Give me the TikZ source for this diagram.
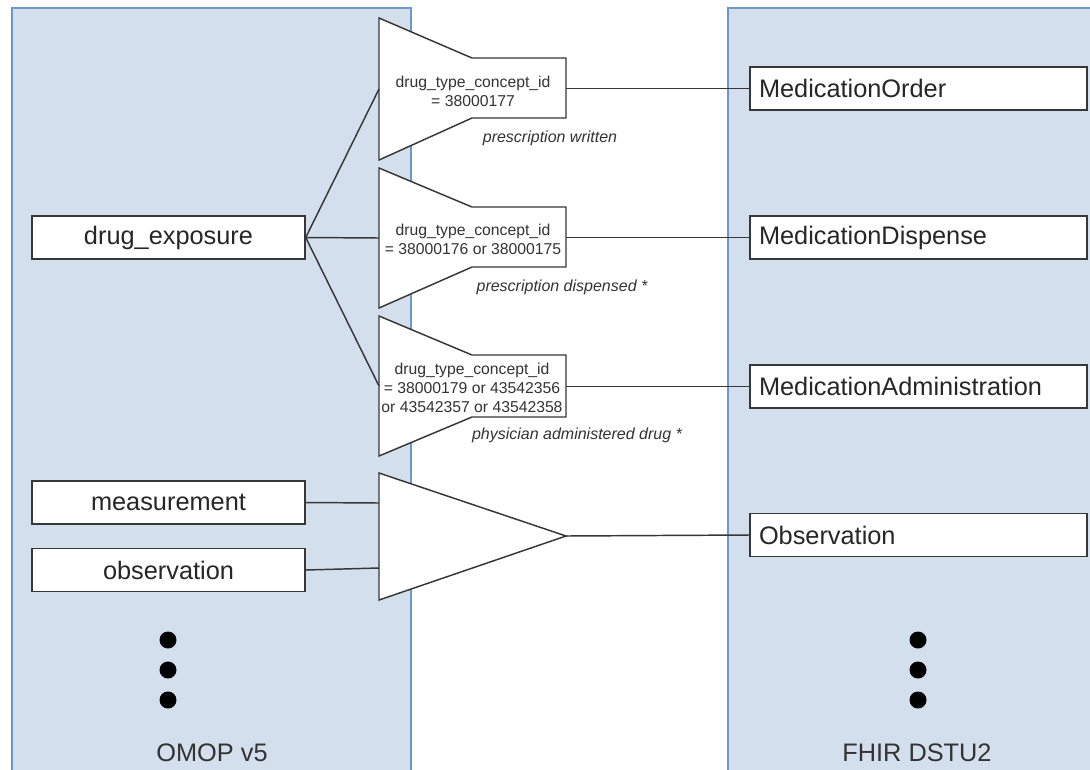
\documentclass[tikz,border=0pt]{standalone}
\usepackage{fontspec}
\setmainfont{Liberation Sans}
\definecolor{panelfill}{RGB}{212,223,238}
\definecolor{paneledge}{RGB}{108,152,202}
\definecolor{ink}{RGB}{55,55,55}
\begin{document}
\begin{tikzpicture}[x=0.75pt,y=-0.75pt,
  panel/.style={fill=panelfill, draw=paneledge, line width=1.2pt},
  bigfont/.style={font=\fontsize{19}{22}\selectfont},
  srcbox/.style={bigfont, draw=ink, fill=white, line width=1.1pt, text=black!85,
    minimum width=204.75pt, minimum height=32.25pt, inner sep=0pt},
  dstbox/.style={bigfont, draw=ink, fill=white, line width=1.1pt, text=black!85,
    minimum height=32.25pt, text width=239.25pt, inner xsep=6.75pt,
    inner ysep=0pt, align=left},
  funnel/.style={draw=ink, fill=white, line width=1.1pt, line join=miter},
  rule/.style={font=\fontsize{11.8}{14.4}\selectfont, align=center,
    text=black!80, inner sep=0pt},
  note/.style={font=\fontsize{12}{14}\selectfont\itshape, text=black!80,
    inner sep=0pt},
  link/.style={draw=ink, line width=1.1pt},
  dot/.style={circle, fill=black, minimum size=12.75pt, inner sep=0pt},
  caption/.style={bigfont, text=black!80, inner sep=0pt}]

\clip (0,0) rectangle (1090,769);
\fill[white] (0,0) rectangle (1090,769);

% source and target schema panels
\draw[panel] (12,8) rectangle (411,790);
\draw[panel] (728,8) rectangle (1110,790);

% OMOP tables
\node[srcbox] (de)   at (168.5,237.5) {drug\_exposure};
\node[srcbox] (meas) at (168.5,502.5) {measurement};
\node[srcbox] (obs)  at (168.5,570)   {observation};

% FHIR resources
\node[dstbox] (mo) at (918.5,88.5) {MedicationOrder};
\node[dstbox] (md) at (918.5,237.5) {MedicationDispense};
\node[dstbox] (ma) at (918.5,386.5) {MedicationAdministration};
\node[dstbox] (fo) at (918.5,535) {Observation};

% filter funnels
\draw[funnel] (379,18) -- (472,58) -- (566,58) -- (566,118) -- (472,118) -- (379,160) -- cycle;
\draw[funnel] (379,168) -- (472,207) -- (566,207) -- (566,267) -- (472,267) -- (379,308) -- cycle;
\draw[funnel] (379,316) -- (472,355) -- (566,355) -- (566,417) -- (472,417) -- (379,456) -- cycle;
% merging funnel
\draw[funnel] (379,473) -- (566,536) -- (379,600) -- cycle;

\coordinate (f1in) at (379,89);   \coordinate (f1out) at (566,88.5);
\coordinate (f2in) at (379,238);  \coordinate (f2out) at (566,237.5);
\coordinate (f3in) at (379,386);  \coordinate (f3out) at (566,386.5);
\coordinate (m1in) at (379,503);  \coordinate (m2in) at (379,568);
\coordinate (mout) at (566,536);

\node[rule] (f1) at (473,91) {drug\_type\_concept\_id\\= 38000177};
\node[rule] (f2) at (473,239.5) {drug\_type\_concept\_id\\= 38000176 or 38000175};
\node[rule] (f3) at (472,388) {drug\_type\_concept\_id\\= 38000179 or 43542356\\or 43542357 or 43542358};

\node[note] (n1) at (550,138) {prescription written};
\node[note] (n2) at (562,287) {prescription dispensed *};
\node[note] (n3) at (577,435) {physician administered drug *};

% connectors
\draw[link] (de.east) -- (f1in);
\draw[link] (de.east) -- (f2in);
\draw[link] (de.east) -- (f3in);
\draw[link] (meas.east) -- (m1in);
\draw[link] (obs.east) -- (m2in);
\draw[link] (f1out) -- (mo.west);
\draw[link] (f2out) -- (md.west);
\draw[link] (f3out) -- (ma.west);
\draw[link] (mout) -- (fo.west);

% continuation dots
\node[dot] (ld1) at (168,640) {};
\node[dot] (ld2) at (168,670) {};
\node[dot] (ld3) at (168,700) {};
\node[dot] (rd1) at (918,640) {};
\node[dot] (rd2) at (918,670) {};
\node[dot] (rd3) at (918,700) {};

\node[caption] (omop) at (212,753) {OMOP v5};
\node[caption] (fhir) at (917,753) {FHIR DSTU2};
\end{tikzpicture}
\end{document}
